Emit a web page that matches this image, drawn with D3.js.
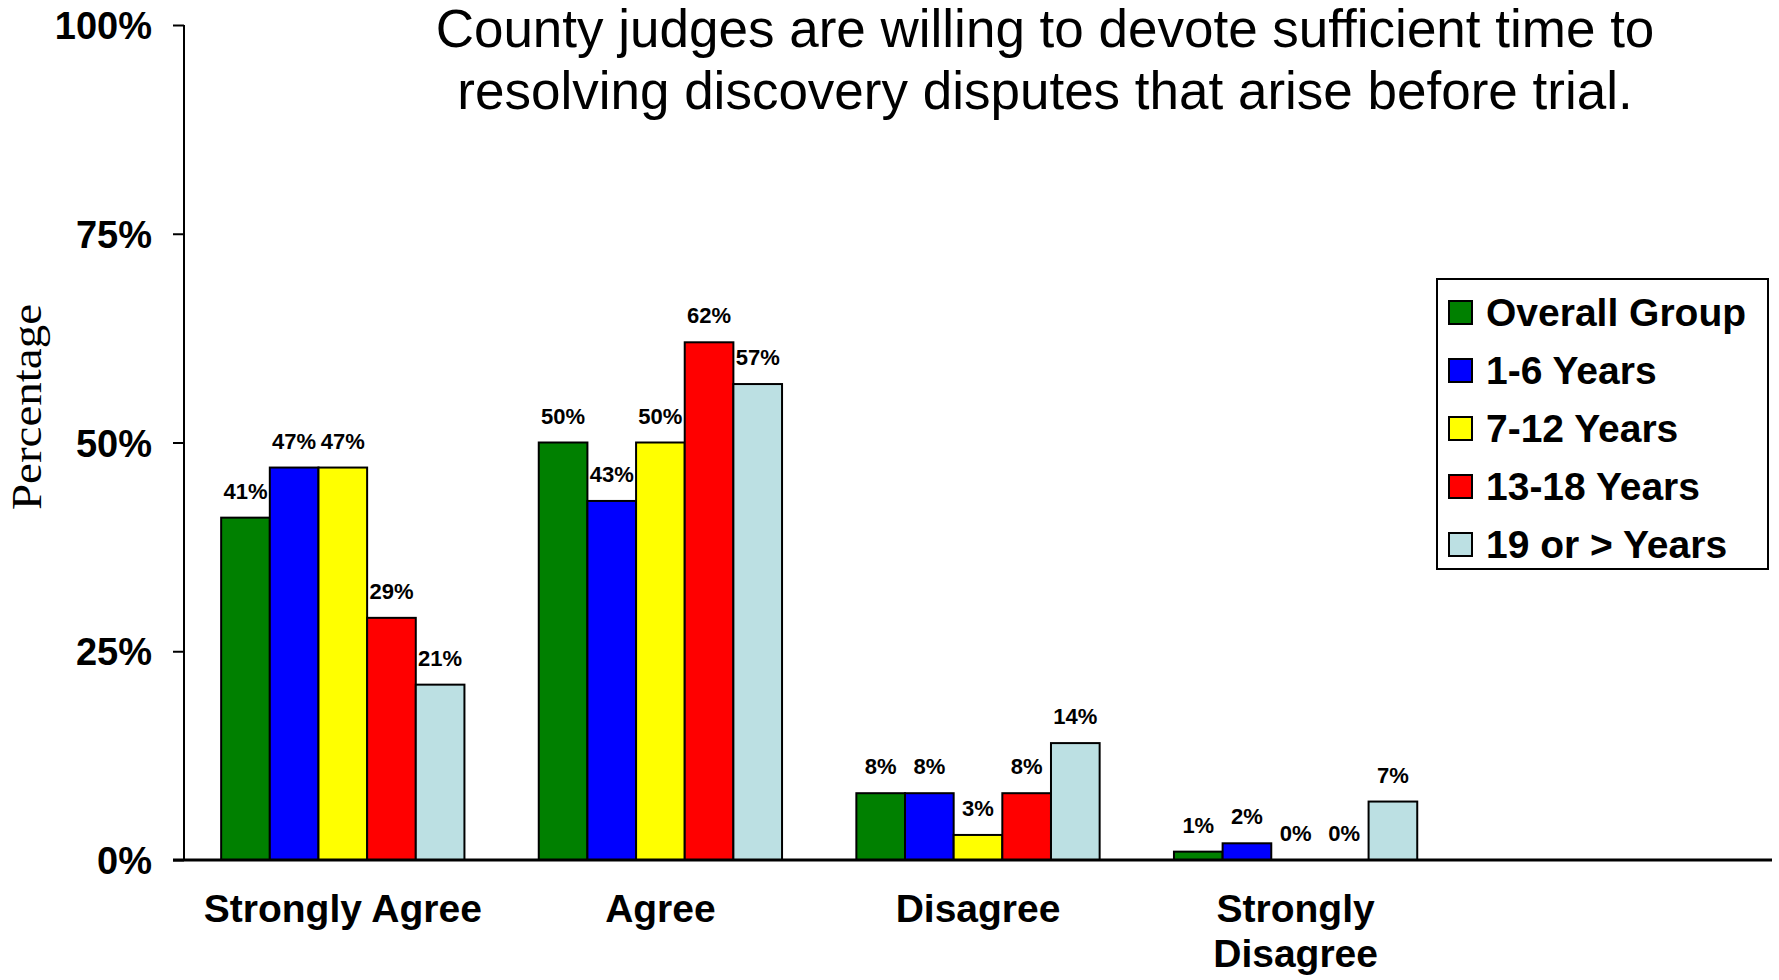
<!DOCTYPE html>
<html>
<head>
<meta charset="utf-8">
<script src="https://cdn.jsdelivr.net/npm/d3@7"></script>
<style>
  body { margin: 0; background: #fff; }
  text { font-family: "Liberation Sans", Arial, sans-serif; }
</style>
</head>
<body>
<div id="chart-area"></div>
<script>
// survey answers and the five judge groups
var categories = ["Strongly Agree", "Agree", "Disagree", "Strongly Disagree"];
var seriesNames = ["Overall Group", "1-6 Years", "7-12 Years", "13-18 Years", "19 or > Years"];
var seriesColors = ["#008000", "#0000ff", "#ffff00", "#ff0000", "#bce0e3"];

// percent per category, one array per group
var overallGroup = [41, 50, 8, 1];
var years1to6   = [47, 43, 8, 2];
var years7to12  = [47, 50, 3, 0];
var years13to18 = [29, 62, 8, 0];
var years19plus = [21, 57, 14, 7];

var yTicks = [0, 25, 50, 75, 100];
var titleLines = ["County judges are willing to devote sufficient time to",
                  "resolving discovery disputes that arise before trial."];

var seriesValues = [overallGroup, years1to6, years7to12, years13to18, years19plus];

var margin = { left: 184, right: 7, top: 25, bottom: 120 };
var width = 1779 - margin.left - margin.right,
    height = 980 - margin.top - margin.bottom;

var svg = d3.select("#chart-area")
    .append("svg")
        .attr("width", 1779)
        .attr("height", 980);

var g = svg.append("g")
    .attr("transform", "translate(" + margin.left + "," + margin.top + ")");

// Title
svg.append("text")
    .attr("x", 1045)
    .attr("y", 47)
    .attr("text-anchor", "middle")
    .attr("font-size", "53px")
    .selectAll("tspan")
    .data(titleLines)
    .enter().append("tspan")
        .attr("x", 1045)
        .attr("dy", function(d, i) { return i === 0 ? 0 : 62; })
        .text(function(d) { return d; });

// Y label
svg.append("text")
    .attr("transform", "translate(41,407) rotate(-90)")
    .attr("text-anchor", "middle")
    .attr("font-size", "42px")
    .style("font-family", "'Liberation Serif', 'Times New Roman', serif")
    .attr("textLength", 206)
    .attr("lengthAdjust", "spacingAndGlyphs")
    .text("Percentage");

// X scales: the categories take 4/5 of the axis, the rest is empty
var x0 = d3.scaleBand()
    .domain(categories)
    .range([0, width * 0.8]);

var x1 = d3.scaleBand()
    .domain(seriesNames)
    .range([x0.bandwidth() * 0.117, x0.bandwidth() * 0.883]);

var y = d3.scaleLinear()
    .domain([0, 100])
    .range([height, 0]);

// Y Axis
var yAxisCall = d3.axisLeft(y)
    .tickValues(yTicks)
    .tickSize(11)
    .tickPadding(21)
    .tickFormat(function(d) { return d + "%"; });
var yAxis = g.append("g")
    .attr("class", "y axis")
    .call(yAxisCall);
yAxis.select(".domain").attr("stroke-width", 2).attr("d", "M0," + y(100) + "V" + y(0));
yAxis.selectAll(".tick line").attr("stroke-width", 2);
yAxis.selectAll(".tick text")
    .attr("font-size", "38px")
    .attr("font-weight", "bold")
    .attr("fill", "#000")
    .attr("dy", "0.36em")
    .style("font-family", "'Liberation Sans', Arial, sans-serif");

// X Axis labels
var xAxisCall = d3.axisBottom(x0).tickSize(0).tickPadding(34);
var xAxis = g.append("g")
    .attr("class", "x axis")
    .attr("transform", "translate(0," + height + ")")
    .call(xAxisCall);
xAxis.select(".domain").remove();
xAxis.selectAll(".tick text")
    .attr("font-size", "39px")
    .attr("font-weight", "bold")
    .attr("fill", "#000")
    .style("font-family", "'Liberation Sans', Arial, sans-serif")
    .call(wrap, x0.bandwidth());

// split a label over lines when it is wider than its band
function wrap(texts, w) {
    texts.each(function() {
        var text = d3.select(this);
        if (this.getComputedTextLength() <= w) return;
        var words = text.text().split(" ");
        var ty = +text.attr("y");
        text.text(null).attr("dy", null);
        words.forEach(function(word, i) {
            text.append("tspan")
                .attr("x", 0)
                .attr("y", ty)
                .attr("dy", (0.71 + i * 1.15) + "em")
                .text(word);
        });
    });
}

// Bars
var groups = g.selectAll("g.cat")
    .data(categories)
    .enter().append("g")
        .attr("class", "cat")
        .attr("transform", function(d) { return "translate(" + x0(d) + ",0)"; });

groups.selectAll("rect")
    .data(function(d, ci) {
        return seriesNames.map(function(s, si) {
            return { series: s, value: seriesValues[si][ci], color: seriesColors[si] };
        });
    })
    .enter().append("rect")
        .filter(function(d) { return d.value > 0; })
        .attr("x", function(d) { return x1(d.series); })
        .attr("y", function(d) { return y(d.value); })
        .attr("width", x1.bandwidth())
        .attr("height", function(d) { return height - y(d.value); })
        .attr("fill", function(d) { return d.color; })
        .attr("stroke", "#000")
        .attr("stroke-width", 2);

// value labels
groups.selectAll("text.val")
    .data(function(d, ci) {
        return seriesNames.map(function(s, si) {
            return { series: s, value: seriesValues[si][ci] };
        });
    })
    .enter().append("text")
        .attr("class", "val")
        .attr("x", function(d) { return x1(d.series) + x1.bandwidth() / 2; })
        .attr("y", function(d) { return y(d.value) - 19; })
        .attr("text-anchor", "middle")
        .attr("font-size", "22px")
        .attr("font-weight", "bold")
        .text(function(d) { return d.value + "%"; });

// baseline
g.append("line")
    .attr("x1", -11)
    .attr("x2", width)
    .attr("y1", height)
    .attr("y2", height)
    .attr("stroke", "#000")
    .attr("stroke-width", 3);

// Legend
var legend = svg.append("g")
    .attr("transform", "translate(1437,279)");

legend.append("rect")
    .attr("width", 331)
    .attr("height", 290)
    .attr("fill", "#fff")
    .attr("stroke", "#000")
    .attr("stroke-width", 2);

var rows = legend.selectAll("g.row")
    .data(seriesNames)
    .enter().append("g")
        .attr("class", "row")
        .attr("transform", function(d, i) { return "translate(12," + (22 + i * 58) + ")"; });

rows.append("rect")
    .attr("width", 23)
    .attr("height", 23)
    .attr("fill", function(d, i) { return seriesColors[i]; })
    .attr("stroke", "#000")
    .attr("stroke-width", 2);

rows.append("text")
    .attr("x", 37)
    .attr("y", 25)
    .attr("font-size", "39px")
    .attr("font-weight", "bold")
    .text(function(d) { return d; });
</script>
</body>
</html>
